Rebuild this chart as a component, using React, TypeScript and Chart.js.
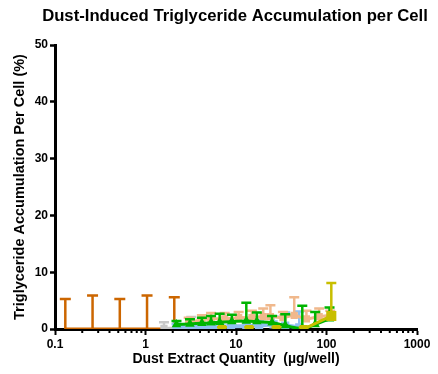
import React, { useEffect, useRef } from 'react';
import { Chart, registerables } from 'chart.js';
Chart.register(...registerables);

const titleText = 'Dust-Induced Triglyceride Accumulation per Cell';
const xTitle = 'Dust Extract Quantity  (µg/well)';
const yTitle = 'Triglyceride Accumulation Per Cell (%)';
const xTickValues = [0.1, 1, 10, 100, 1000];
const yTickValues = [0, 10, 20, 30, 40, 50];

const orangeX = [0.13, 0.26, 0.52, 1.04, 2.08];
const orangeY = [0, 0, 0, 0, 0];
const orangeErr = [5.3, 5.9, 5.3, 5.9, 5.6];

const grayX = [1.6, 3.2];
const grayY = [0.1, 0.3];
const grayErr = [1.1, 1.8];

const blueX = [2.2, 3.3, 4.4, 6.6, 8.8, 13, 18, 26, 35, 50];
const blueY = [0.4, 0.4, 0.3, 0.4, 0.5, 0.5, 0.6, 0.8, 0.6, 0.3];
const blueErr = [0.5, 0.6, 0.6, 0.8, 0.8, 0.8, 1.0, 1.4, 2.3, 2.8];

const greenX = [2.2, 3.1, 4.2, 5.3, 6.6, 9, 13, 17, 25, 35, 54, 75, 108];
const greenY = [0.8, 0.9, 1.0, 1.1, 1.2, 1.3, 1.4, 1.3, 1.1, 0.6, 0.1, 0.8, 1.8];
const greenErr = [0.6, 0.8, 1.0, 1.2, 1.5, 1.2, 3.2, 1.6, 1.2, 2.0, 4.0, 2.2, 2.0];

const peachX = [3.0, 4.2, 5.3, 7.5, 10.7, 15, 20, 24, 33, 44, 60, 83, 110];
const peachY = [1.2, 1.6, 1.8, 1.8, 2.0, 2.0, 2.2, 2.2, 2.0, 2.4, 1.8, 2.2, 2.4];
const peachErr = [0.8, 0.8, 1.0, 1.0, 1.0, 1.2, 1.4, 2.0, 1.0, 3.2, 1.4, 1.4, 0.8];

const oliveX = [7, 14, 28, 56, 113];
const oliveY = [0, 0, 0, 0, 2.3];
const oliveErr = [0.3, 0.3, 0.3, 0.3, 5.8];

const pts = (xs: number[], ys: number[]) => xs.map((x, i) => ({ x, y: ys[i] }));

const errorBarPlugin = {
  id: 'errorBars',
  afterDatasetDraw(chart: any, args: any) {
    const ds = chart.data.datasets[args.index];
    const errs = ds.errUp;
    if (!errs) return;
    const ctx = chart.ctx;
    const xs = chart.scales.x;
    const ys = chart.scales.y;
    ctx.save();
    ctx.strokeStyle = ds.borderColor;
    ctx.lineWidth = 2.5;
    const cap = ds.capHalf || 5;
    ds.data.forEach((p: any, j: number) => {
      const px = xs.getPixelForValue(p.x);
      const py = ys.getPixelForValue(p.y);
      const pt = ys.getPixelForValue(p.y + errs[j]);
      ctx.beginPath();
      ctx.moveTo(px, py);
      ctx.lineTo(px, pt);
      ctx.moveTo(px - cap, pt);
      ctx.lineTo(px + cap, pt);
      ctx.stroke();
    });
    ctx.restore();
  },
};

const minorTickPlugin = {
  id: 'minorTicks',
  afterDraw(chart: any) {
    const ctx = chart.ctx;
    const xs = chart.scales.x;
    const bottom = chart.chartArea.bottom;
    ctx.save();
    ctx.strokeStyle = '#000';
    ctx.lineWidth = 2;
    for (let d = 0; d < xTickValues.length - 1; d++) {
      for (let m = 2; m <= 9; m++) {
        const px = xs.getPixelForValue(xTickValues[d] * m);
        ctx.beginPath();
        ctx.moveTo(px, bottom);
        ctx.lineTo(px, bottom + 4);
        ctx.stroke();
      }
    }
    ctx.restore();
  },
};

const titleDrawPlugin = {
  id: 'titleDraw',
  afterDraw(chart: any) {
    const ctx = chart.ctx;
    const { left, right } = chart.chartArea;
    ctx.save();
    ctx.fillStyle = '#000';
    ctx.font = 'bold 16.7px "Liberation Sans", Arial, sans-serif';
    ctx.textAlign = 'center';
    ctx.textBaseline = 'middle';
    ctx.fillText(titleText, (left + right) / 2 - 1, 16);
    ctx.restore();
  },
};

export default function App() {
  const ref = useRef<HTMLCanvasElement>(null);
  useEffect(() => {
    document.body.style.margin = '0';
    Chart.defaults.font.family = '"Liberation Sans", Arial, sans-serif';
    Chart.defaults.color = '#000';
    const olive = '#C8BE00';
    const chart = new Chart(ref.current as HTMLCanvasElement, {
      type: 'line',
      data: {
        datasets: [
          {
            data: pts(oliveX, oliveY), borderColor: olive, backgroundColor: olive,
            borderWidth: 3, pointStyle: 'rect',
            pointRadius: (c: any) => (c.dataIndex === oliveX.length - 1 ? 5 : 3.5),
            segment: { borderColor: (c: any) => (c.p0DataIndex < oliveX.length - 2 ? 'rgba(0,0,0,0)' : olive) },
            errUp: oliveErr, capHalf: 5,
          } as any,
          {
            data: pts(greenX, greenY), borderColor: '#00B400', backgroundColor: '#00B400',
            borderWidth: 3, pointRadius: 2.5, pointStyle: 'triangle', tension: 0.4,
            errUp: greenErr, capHalf: 5,
          } as any,
          {
            data: pts(peachX, peachY), borderColor: '#F0B88C', backgroundColor: '#F0B88C',
            borderWidth: 3, pointRadius: 3, pointStyle: 'rect', tension: 0.3,
            errUp: peachErr, capHalf: 5,
          } as any,
          {
            data: pts(blueX, blueY), borderColor: '#90C0F0', backgroundColor: '#90C0F0',
            borderWidth: 4, pointRadius: 3, pointStyle: 'rect', tension: 0.3,
            errUp: blueErr, capHalf: 5,
          } as any,
          {
            data: pts(grayX, grayY), borderColor: '#C8C8C8', backgroundColor: '#C8C8C8',
            borderWidth: 3, pointRadius: 3, pointStyle: 'rect',
            errUp: grayErr, capHalf: 5,
          } as any,
          {
            data: pts(orangeX, orangeY), borderColor: '#CC6600', backgroundColor: '#CC6600',
            borderWidth: 3, pointRadius: 0,
            errUp: orangeErr, capHalf: 5.5,
          } as any,
        ],
      },
      options: {
        responsive: false,
        animation: false,
        layout: { padding: { top: 45, right: 21, left: 0, bottom: 0 } },
        plugins: {
          legend: { display: false },
          tooltip: { enabled: false },
          title: { display: false },
        },
        scales: {
          x: {
            type: 'logarithmic', min: 0.1, max: 1000,
            afterBuildTicks: (s: any) => { s.ticks = xTickValues.map((v) => ({ value: v })); },
            afterFit: (s: any) => { s.height = 45; },
            ticks: {
              autoSkip: false, maxRotation: 0, padding: 2,
              font: { size: 12, weight: 'bold' }, color: '#000',
              callback: (v: any) => String(v),
            },
            grid: { drawOnChartArea: false, drawTicks: true, tickLength: 6, tickWidth: 2, tickColor: '#000' },
            border: { display: true, color: '#000', width: 3 },
            title: { display: true, text: xTitle, font: { size: 14, weight: 'bold' }, color: '#000', padding: { top: 0, bottom: 6.5 } },
          },
          y: {
            type: 'linear', min: 0, max: 50,
            afterBuildTicks: (s: any) => { s.ticks = yTickValues.map((v) => ({ value: v })); },
            afterFit: (s: any) => { s.width = 55; },
            ticks: { padding: 2, font: { size: 12, weight: 'bold' }, color: '#000' },
            grid: { drawOnChartArea: false, drawTicks: true, tickLength: 5, tickWidth: 2.5, tickColor: '#000' },
            border: { display: true, color: '#000', width: 3 },
            title: { display: true, text: yTitle, font: { size: 14.5, weight: 'bold' }, color: '#000', padding: { top: 11.3, bottom: 0 } },
          },
        },
      } as any,
      plugins: [errorBarPlugin, minorTickPlugin, titleDrawPlugin],
    });
    return () => chart.destroy();
  }, []);
  return (
    <div style={{ width: 438, height: 374, background: '#fff' }}>
      <canvas ref={ref} width={438} height={374} />
    </div>
  );
}
